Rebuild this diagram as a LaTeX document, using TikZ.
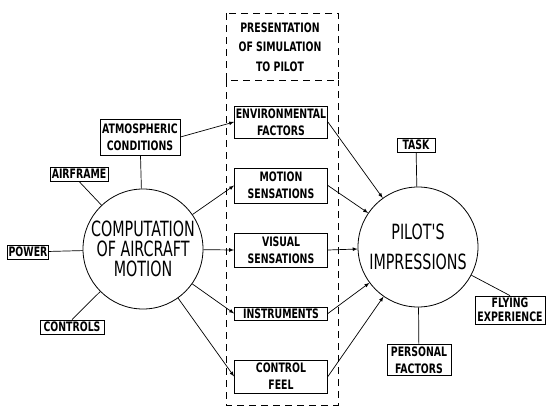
\documentclass[tikz,border=0pt]{standalone}
\usepackage{fontspec}
\usepackage{tikz}
\newfontfamily\letterfont[FakeStretch=0.72]{DejaVu Sans}
\newfontfamily\hubfont[FakeStretch=0.68]{DejaVu Sans}

\begin{document}
\begin{tikzpicture}[x = 1pt, y = -1pt,
    box/.style = {draw, line width = .8pt, inner sep = 0pt, align = center,
      font = \letterfont\bfseries\fontsize{13}{17}\selectfont},
    hub/.style = {draw, circle, line width = .8pt, minimum size = 120pt, inner sep = 0pt,
      align = center, font = \hubfont\fontsize{21}{20}\selectfont},
    link/.style = {line width = .7pt},
    feed/.style = {line width = .7pt, -latex}]
  \useasboundingbox (0, 0) rectangle (546, 407);
  % dashed panel
  \draw [line width = .7pt, dash pattern = on 7pt off 5pt] (226, 13) rectangle (338, 80);
  \draw [line width = .7pt, dash pattern = on 7pt off 5pt] (226, 80) -- (226, 405) -- (338, 405) -- (338, 80);
  \node [align = center, font = \letterfont\bfseries\fontsize{13}{19.5}\selectfont] (pres) at (280, 47) {PRESENTATION\\OF SIMULATION\\TO PILOT};
  % hubs
  \node [hub] (comp) at (143, 249) {COMPUTATION\\OF AIRCRAFT\\MOTION};
  \node [hub, font = \hubfont\fontsize{21}{30}\selectfont] (pilot) at (418, 247) {PILOT'S\\IMPRESSIONS};
  % inputs
  \node [box, minimum width = 80pt, minimum height = 36pt] (atmos) at (140, 137) {ATMOSPHERIC\\CONDITIONS};
  \node [box, minimum width = 58pt, minimum height = 14pt] (airframe) at (79, 174) {AIRFRAME};
  \node [box, minimum width = 41pt, minimum height = 14pt] (power) at (28, 252) {POWER};
  \node [box, minimum width = 64pt, minimum height = 14pt] (controls) at (72, 327) {CONTROLS};
  \node [box, minimum width = 38pt, minimum height = 14pt] (task) at (416, 145) {TASK};
  \node [box, minimum width = 70pt, minimum height = 28pt, font = \letterfont\bfseries\fontsize{13}{14}\selectfont] (flying) at (510, 310) {FLYING\\EXPERIENCE};
  \node [box, minimum width = 64pt, minimum height = 31pt] (personal) at (419, 360) {PERSONAL\\FACTORS};
  % presentation boxes
  \node [box, minimum width = 93pt, minimum height = 32pt] (env) at (281, 122) {ENVIRONMENTAL\\FACTORS};
  \node [box, minimum width = 93pt, minimum height = 35pt] (motion) at (281, 185.5) {MOTION\\SENSATIONS};
  \node [box, minimum width = 93pt, minimum height = 34pt] (visual) at (281, 250) {VISUAL\\SENSATIONS};
  \node [box, minimum width = 93pt, minimum height = 13pt] (instr) at (281, 313.5) {INSTRUMENTS};
  \node [box, minimum width = 93pt, minimum height = 33pt] (feel) at (281, 376.5) {CONTROL\\FEEL};
  % connectors
  \draw [link] (atmos) -- (comp);
  \draw [link] (airframe.south) -- (comp);
  \draw [link] (power) -- (comp);
  \draw [link] (controls.north) -- (comp);
  \draw [link] (task) -- (pilot);
  \draw [link] (flying.north) -- (pilot);
  \draw [link] (personal) -- (pilot);
  \draw [feed] (atmos.east) -- (env.west);
  \draw [feed] (comp) -- (motion.west);
  \draw [feed] (comp) -- (visual.west);
  \draw [feed] (comp) -- (instr.west);
  \draw [feed] (comp) -- (feel.west);
  \draw [feed] (env.east) -- (pilot);
  \draw [feed] (motion.east) -- (pilot);
  \draw [feed] (visual.east) -- (pilot);
  \draw [feed] (instr.east) -- (pilot);
  \draw [feed] (feel.east) -- (pilot);
\end{tikzpicture}
\end{document}
